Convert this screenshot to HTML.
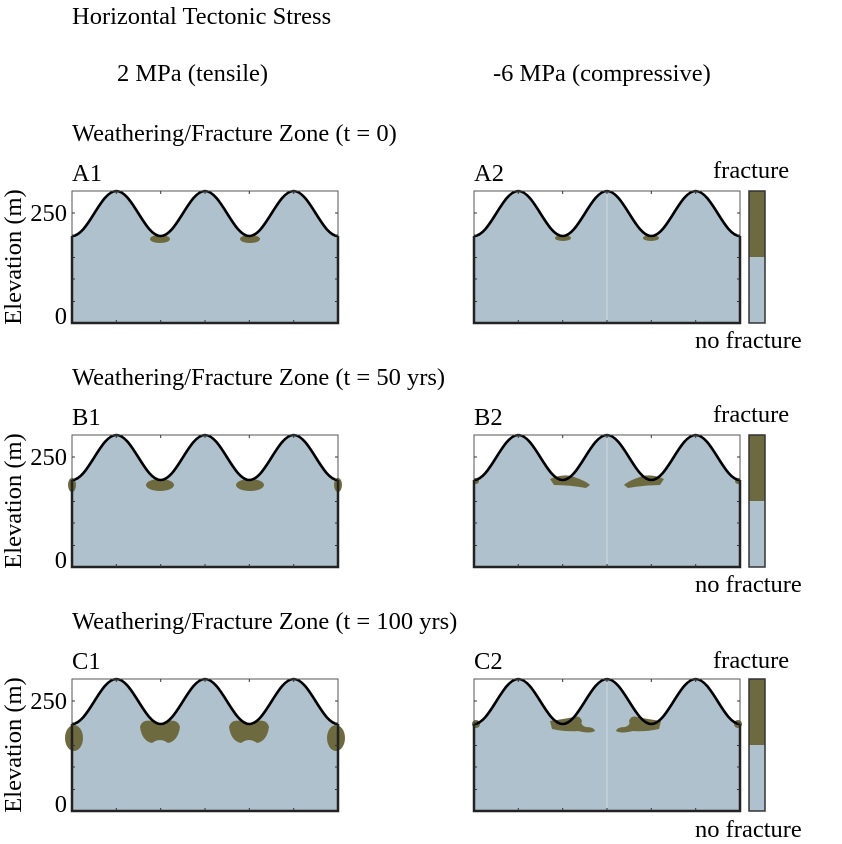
<!DOCTYPE html>
<html><head><meta charset="utf-8"><style>
html,body{margin:0;padding:0;background:#fff;}
svg{display:block;font-family:"Liberation Serif",serif;}
</style></head><body>
<svg width="842" height="844" viewBox="0 0 842 844" xmlns="http://www.w3.org/2000/svg">
<defs>
<g id="ticks" stroke="#333" stroke-width="1">
<line x1="44.3" y1="0" x2="44.3" y2="3"/><line x1="88.7" y1="0" x2="88.7" y2="3"/><line x1="133" y1="0" x2="133" y2="3"/><line x1="177.3" y1="0" x2="177.3" y2="3"/><line x1="221.7" y1="0" x2="221.7" y2="3"/>
<line x1="44.3" y1="132" x2="44.3" y2="129"/><line x1="88.7" y1="132" x2="88.7" y2="129"/><line x1="133" y1="132" x2="133" y2="129"/><line x1="177.3" y1="132" x2="177.3" y2="129"/><line x1="221.7" y1="132" x2="221.7" y2="129"/>
<line x1="0" y1="22" x2="3" y2="22"/><line x1="0" y1="44" x2="3" y2="44"/><line x1="0" y1="66.5" x2="3" y2="66.5"/><line x1="0" y1="88" x2="3" y2="88"/><line x1="0" y1="110.5" x2="3" y2="110.5"/>
<line x1="266" y1="22" x2="263" y2="22"/><line x1="266" y1="44" x2="263" y2="44"/><line x1="266" y1="66.5" x2="263" y2="66.5"/><line x1="266" y1="88" x2="263" y2="88"/><line x1="266" y1="110.5" x2="263" y2="110.5"/>
</g>
<path id="fill" d="M0,45 C16.15,45 28.18,0 44.33,0 C60.48,0 72.52,45 88.67,45 C104.82,45 116.85,0 133,0 C149.15,0 161.18,45 177.33,45 C193.48,45 205.52,0 221.67,0 C237.82,0 249.85,45 266,45 L266,132 L0,132 Z" fill="#afc1cd"/>
<path id="curve" d="M0,45 C16.15,45 28.18,0 44.33,0 C60.48,0 72.52,45 88.67,45 C104.82,45 116.85,0 133,0 C149.15,0 161.18,45 177.33,45 C193.48,45 205.52,0 221.67,0 C237.82,0 249.85,45 266,45" fill="none" stroke="#000" stroke-width="2.6"/>
<g id="frame"><rect x="0" y="0" width="266" height="132" fill="none" stroke="#555" stroke-width="1"/><path d="M0,45 L0,132 L266,132 L266,45" fill="none" stroke="#222" stroke-width="2.5"/></g>
<g id="cbar"><rect x="0" y="0" width="16" height="66" fill="#6e6a3f"/><rect x="0" y="66" width="16" height="66" fill="#afc1cd"/><rect x="0" y="0" width="16" height="132" fill="none" stroke="#333" stroke-width="1.5"/></g>
</defs>
<g font-size="24.5" fill="#000">
<text x="72" y="24">Horizontal Tectonic Stress</text>
<text x="117" y="81">2 MPa (tensile)</text>
<text x="493" y="81">-6 MPa (compressive)</text>
<text x="72" y="141">Weathering/Fracture Zone (t = 0)</text>
<text x="72" y="385">Weathering/Fracture Zone (t = 50 yrs)</text>
<text x="72" y="629">Weathering/Fracture Zone (t = 100 yrs)</text>
<text x="72" y="181">A1</text><text x="474" y="181">A2</text>
<text x="72" y="425">B1</text><text x="474" y="425">B2</text>
<text x="72" y="669">C1</text><text x="474" y="669">C2</text>
<text x="713" y="178">fracture</text><text x="695" y="348">no fracture</text>
<text x="713" y="422">fracture</text><text x="695" y="592">no fracture</text>
<text x="713" y="668">fracture</text><text x="695" y="837">no fracture</text>
<g text-anchor="end"><text x="67" y="221">250</text><text x="67" y="324">0</text>
<text x="67" y="465">250</text><text x="67" y="568">0</text>
<text x="67" y="709">250</text><text x="67" y="812">0</text></g>
<g text-anchor="middle">
<text transform="translate(21,257) rotate(-90)">Elevation (m)</text>
<text transform="translate(21,501) rotate(-90)">Elevation (m)</text>
<text transform="translate(21,745) rotate(-90)">Elevation (m)</text></g>
</g>
<g transform="translate(72,191)"><use href="#fill"/>
<g fill="#6e6a3f"><ellipse cx="88" cy="48" rx="10" ry="4"/><ellipse cx="178" cy="48" rx="10" ry="4"/></g>
<use href="#curve"/><use href="#frame"/><use href="#ticks"/></g>
<g transform="translate(474,191)"><use href="#fill"/>
<g fill="#6e6a3f"><ellipse cx="89" cy="47" rx="8" ry="3"/><ellipse cx="177" cy="47" rx="8" ry="3"/></g>
<line x1="133" y1="0" x2="133" y2="132" stroke="#d0dbe2" stroke-width="1"/>
<use href="#curve"/><use href="#frame"/><use href="#ticks"/></g>
<use href="#cbar" x="749" y="191"/>
<g transform="translate(72,435)"><use href="#fill"/>
<g fill="#6e6a3f"><ellipse cx="88" cy="50" rx="14" ry="6"/><ellipse cx="178" cy="50" rx="14" ry="6"/><ellipse cx="0" cy="50" rx="4" ry="7"/><ellipse cx="266" cy="50" rx="4" ry="7"/></g>
<use href="#curve"/><use href="#frame"/><use href="#ticks"/></g>
<g transform="translate(474,435)"><use href="#fill"/>
<g fill="#6e6a3f"><path d="M76,44 Q90,38 100,42 Q112,46 116,50 L112,53 Q96,50 80,50 Z"/><path d="M190,44 Q176,38 166,42 Q154,46 150,50 L154,53 Q170,50 186,50 Z"/><ellipse cx="2" cy="46" rx="3" ry="3"/><ellipse cx="264" cy="46" rx="3" ry="3"/></g>
<line x1="133" y1="0" x2="133" y2="132" stroke="#d0dbe2" stroke-width="1"/>
<use href="#curve"/><use href="#frame"/><use href="#ticks"/></g>
<use href="#cbar" x="749" y="435"/>
<g transform="translate(72,679)"><use href="#fill"/>
<g fill="#6e6a3f"><path d="M68,48 Q70,40 80,42 Q88,48 96,42 Q106,40 108,48 Q106,62 96,64 Q88,58 80,64 Q70,62 68,48 Z"/><path d="M157,48 Q159,40 169,42 Q177,48 185,42 Q195,40 197,48 Q195,62 185,64 Q177,58 169,64 Q159,62 157,48 Z"/><ellipse cx="2" cy="59" rx="9" ry="13"/><ellipse cx="264" cy="59" rx="9" ry="13"/></g>
<use href="#curve"/><use href="#frame"/><use href="#ticks"/></g>
<g transform="translate(474,679)"><use href="#fill"/>
<g fill="#6e6a3f"><path d="M76,42 Q90,40 100,38 Q106,36 108,42 Q106,46 112,48 Q120,48 121,52 Q116,55 104,52 Q92,53 78,50 Z"/><path d="M187,42 Q173,40 163,38 Q157,36 155,42 Q157,46 151,48 Q143,48 142,52 Q147,55 159,52 Q171,53 185,50 Z"/><ellipse cx="2" cy="45" rx="4" ry="4"/><ellipse cx="264" cy="45" rx="4" ry="4"/></g>
<line x1="133" y1="0" x2="133" y2="132" stroke="#d0dbe2" stroke-width="1"/>
<use href="#curve"/><use href="#frame"/><use href="#ticks"/></g>
<use href="#cbar" x="749" y="679"/>
</svg>
</body></html>
